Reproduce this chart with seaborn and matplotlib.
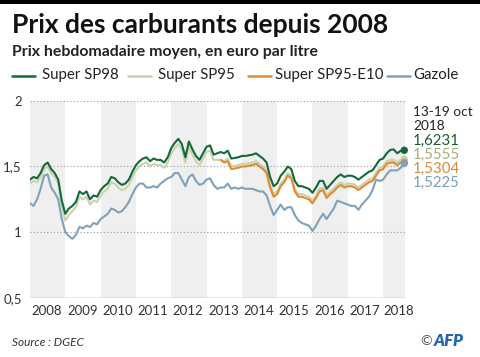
import numpy as np
import pandas as pd
import matplotlib
matplotlib.use("Agg")
import matplotlib.pyplot as plt
from matplotlib.patches import Rectangle
from matplotlib.lines import Line2D
import seaborn as sns

# ---------------- data (decimal years, euro per litre) ----------------
dates = np.round(np.linspace(2008.0, 2018.6, 107), 2)

sp98 = [1.40, 1.42, 1.41, 1.45, 1.51, 1.53, 1.48, 1.45, 1.40, 1.24,
        1.14, 1.18, 1.20, 1.23, 1.31, 1.29, 1.31, 1.25, 1.28, 1.27,
        1.32, 1.35, 1.37, 1.42, 1.41, 1.38, 1.36, 1.37, 1.40, 1.46,
        1.51, 1.54, 1.56, 1.57, 1.54, 1.56, 1.55, 1.55, 1.53, 1.57,
        1.64, 1.68, 1.71, 1.67, 1.57, 1.69, 1.63, 1.58, 1.55, 1.60,
        1.65, 1.66, 1.59, 1.60, 1.61, 1.60, 1.62, 1.56, 1.565, 1.57,
        1.58, 1.58, 1.585, 1.59, 1.60, 1.58, 1.56, 1.53, 1.42, 1.35,
        1.37, 1.43, 1.46, 1.50, 1.48, 1.39, 1.35, 1.35, 1.34, 1.33,
        1.30, 1.34, 1.39, 1.39, 1.33, 1.36, 1.39, 1.42, 1.44, 1.42,
        1.43, 1.43, 1.42, 1.40, 1.42, 1.44, 1.46, 1.47, 1.51, 1.55,
        1.56, 1.60, 1.625, 1.63, 1.60, 1.62, 1.6231]

sp95 = [1.37, 1.39, 1.38, 1.42, 1.48, 1.50, 1.45, 1.42, 1.37, 1.20,
        1.09, 1.13, 1.16, 1.19, 1.27, 1.25, 1.27, 1.21, 1.24, 1.23,
        1.28, 1.31, 1.33, 1.38, 1.37, 1.34, 1.32, 1.33, 1.36, 1.42,
        1.47, 1.50, 1.52, 1.53, 1.50, 1.52, 1.51, 1.51, 1.49, 1.53,
        1.60, 1.64, 1.67, 1.63, 1.53, 1.65, 1.59, 1.54, 1.51, 1.56,
        1.61, 1.62, 1.55, 1.55, 1.55, 1.54, 1.56, 1.50, 1.505, 1.51,
        1.52, 1.52, 1.525, 1.53, 1.54, 1.52, 1.50, 1.47, 1.36, 1.29,
        1.31, 1.37, 1.40, 1.45, 1.43, 1.33, 1.29, 1.29, 1.28, 1.27,
        1.24, 1.28, 1.33, 1.34, 1.28, 1.31, 1.33, 1.36, 1.38, 1.36,
        1.37, 1.37, 1.36, 1.34, 1.36, 1.38, 1.40, 1.41, 1.45, 1.49,
        1.50, 1.54, 1.55, 1.55, 1.53, 1.55, 1.5555]

e10_start = 2013.4
e10 = [1.55, 1.53, 1.54, 1.48, 1.485, 1.49,
       1.50, 1.50, 1.505, 1.51, 1.52, 1.50, 1.48, 1.45, 1.34, 1.27,
       1.29, 1.35, 1.38, 1.43, 1.41, 1.31, 1.27, 1.27, 1.26, 1.25,
       1.22, 1.26, 1.31, 1.32, 1.26, 1.29, 1.31, 1.34, 1.36, 1.34,
       1.35, 1.35, 1.34, 1.32, 1.34, 1.36, 1.38, 1.39, 1.43, 1.47,
       1.48, 1.52, 1.53, 1.53, 1.51, 1.53, 1.5304]

gazole = [1.22, 1.20, 1.25, 1.33, 1.43, 1.44, 1.34, 1.30, 1.25, 1.10,
          1.00, 0.97, 0.95, 0.98, 1.04, 1.03, 1.05, 1.04, 1.07, 1.06,
          1.10, 1.12, 1.14, 1.18, 1.17, 1.15, 1.16, 1.19, 1.23, 1.29,
          1.34, 1.37, 1.37, 1.34, 1.34, 1.35, 1.34, 1.37, 1.39, 1.41,
          1.42, 1.45, 1.45, 1.40, 1.35, 1.42, 1.44, 1.39, 1.36, 1.37,
          1.40, 1.41, 1.36, 1.33, 1.34, 1.34, 1.37, 1.33, 1.34, 1.33,
          1.34, 1.33, 1.33, 1.33, 1.32, 1.31, 1.31, 1.28, 1.20, 1.13,
          1.17, 1.21, 1.17, 1.19, 1.19, 1.13, 1.09, 1.07, 1.06, 1.05,
          1.01, 1.05, 1.10, 1.14, 1.10, 1.14, 1.18, 1.24, 1.23, 1.22,
          1.21, 1.20, 1.20, 1.17, 1.21, 1.24, 1.27, 1.32, 1.40, 1.39,
          1.40, 1.44, 1.47, 1.47, 1.47, 1.49, 1.5225]

series_names = ["Super SP98", "Super SP95", "Super SP95-E10", "Gazole"]
last_labels = ["1,6231", "1,5555", "1,5304", "1,5225"]
years = list(range(2008, 2019))
ytick_vals = [0.5, 1.0, 1.5, 2.0]
ytick_labels = ["0,5", "1", "1,5", "2"]

# ---------------- build table ----------------
e10_full = [np.nan] * (len(dates) - len(e10)) + e10
df = pd.DataFrame({"date": dates, "Super SP98": sp98, "Super SP95": sp95,
                   "Super SP95-E10": e10_full, "Gazole": gazole})
long = df.melt(id_vars="date", var_name="carburant", value_name="prix").dropna()

colors = {"Super SP98": "#13693a", "Super SP95": "#c9d3ab",
          "Super SP95-E10": "#e38a2e", "Gazole": "#7ea2bb"}
text_colors = {"Super SP98": "#1d5e30", "Super SP95": "#a6ad7c",
               "Super SP95-E10": "#d88a3c", "Gazole": "#7b9db6"}
zorders = {"Super SP95": 3, "Super SP95-E10": 4, "Super SP98": 5, "Gazole": 6}

# ---------------- figure ----------------
sns.set_theme(style="white")
plt.rcParams["font.family"] = ["Lato", "DejaVu Sans"]

fig = plt.figure(figsize=(4.8, 3.57), dpi=100)
ax = fig.add_axes([30 / 480, 1 - 298 / 357, 375 / 480, (298 - 100.7) / 357])

xmax = 2018.62
ax.set_xlim(2008.0, xmax)
ax.set_ylim(0.5, 2.0)

# alternating year bands
for y in years[::2]:
    ax.axvspan(y, min(y + 1, xmax), color="#efefef", lw=0, zorder=0)

# dotted grid lines
for v in ytick_vals[1:]:
    ax.axhline(v, color="#9a9a9a", lw=0.8, ls=(0, (1, 2)), zorder=1)
ax.axhline(0.5, color="#9a9a9a", lw=1.0, zorder=1)

for name in ["Super SP95", "Super SP95-E10", "Super SP98", "Gazole"]:
    sub = long[long["carburant"] == name]
    sns.lineplot(data=sub, x="date", y="prix", color=colors[name], lw=1.5,
                 estimator=None, sort=False, ax=ax, zorder=zorders[name],
                 legend=False)

last = long.sort_values("date").groupby("carburant").tail(1)
for name in series_names:
    row = last[last["carburant"] == name]
    sns.scatterplot(data=row, x="date", y="prix", color=colors[name], s=28,
                    edgecolor="none", ax=ax, zorder=zorders[name] + 1,
                    legend=False, clip_on=False)

for s in ax.spines.values():
    s.set_visible(False)
ax.set_xlabel("")
ax.set_ylabel("")
ax.set_yticks(ytick_vals)
ax.set_yticklabels(ytick_labels)
ax.set_xticks([y + 0.48 if y < 2018 else 2018.45 for y in years])
ax.set_xticklabels([str(y) for y in years])
ax.tick_params(axis="both", length=0, labelsize=9.5, colors="#333333")
ax.tick_params(axis="x", pad=5)
ax.tick_params(axis="y", pad=6)

# ---------------- texts ----------------
fig.add_artist(Rectangle((0, 1 - 4 / 357), 1, 4 / 357, transform=fig.transFigure,
                         color="black", lw=0))
fig.text(12 / 480, 1 - 25 / 357, "Prix des carburants depuis 2008",
         fontsize=19, fontweight="bold", color="#111111", va="center")
fig.text(12 / 480, 1 - 52 / 357, "Prix hebdomadaire moyen, en euro par litre",
         fontsize=11.4, fontweight="bold", color="#222222", va="center")

leg_pos = [(12, 42), (128, 158), (248, 275), (387, 413)]
for (lx, tx), name in zip(leg_pos, series_names):
    fig.add_artist(Line2D([lx / 480, (lx + 23) / 480], [1 - 76 / 357] * 2,
                          color=colors[name], lw=1.8, transform=fig.transFigure))
    fig.text(tx / 480, 1 - 75 / 357, name, fontsize=10.8, color="#222222",
             va="center")

fig.text(413 / 480, 1 - 119 / 357, "13-19 oct\n2018", fontsize=9.8,
         color="#222222", va="center", linespacing=1.15)
for ypx, name, lab in zip([141, 155, 169, 183], series_names, last_labels):
    fig.text(413 / 480, 1 - ypx / 357, lab, fontsize=10.8,
             color=text_colors[name], va="center")

fig.text(12 / 480, 1 - 342 / 357, "Source : DGEC", fontsize=8.5,
         style="italic", color="#333333", va="center")
fig.text(420 / 480, 1 - 341 / 357, "©", fontsize=10, color="#555555",
         va="center")
fig.text(434 / 480, 1 - 341 / 357, "AFP", fontsize=12, fontweight="heavy",
         style="italic", color="#2464b4", va="center")

fig.savefig("out.png", dpi=100)
